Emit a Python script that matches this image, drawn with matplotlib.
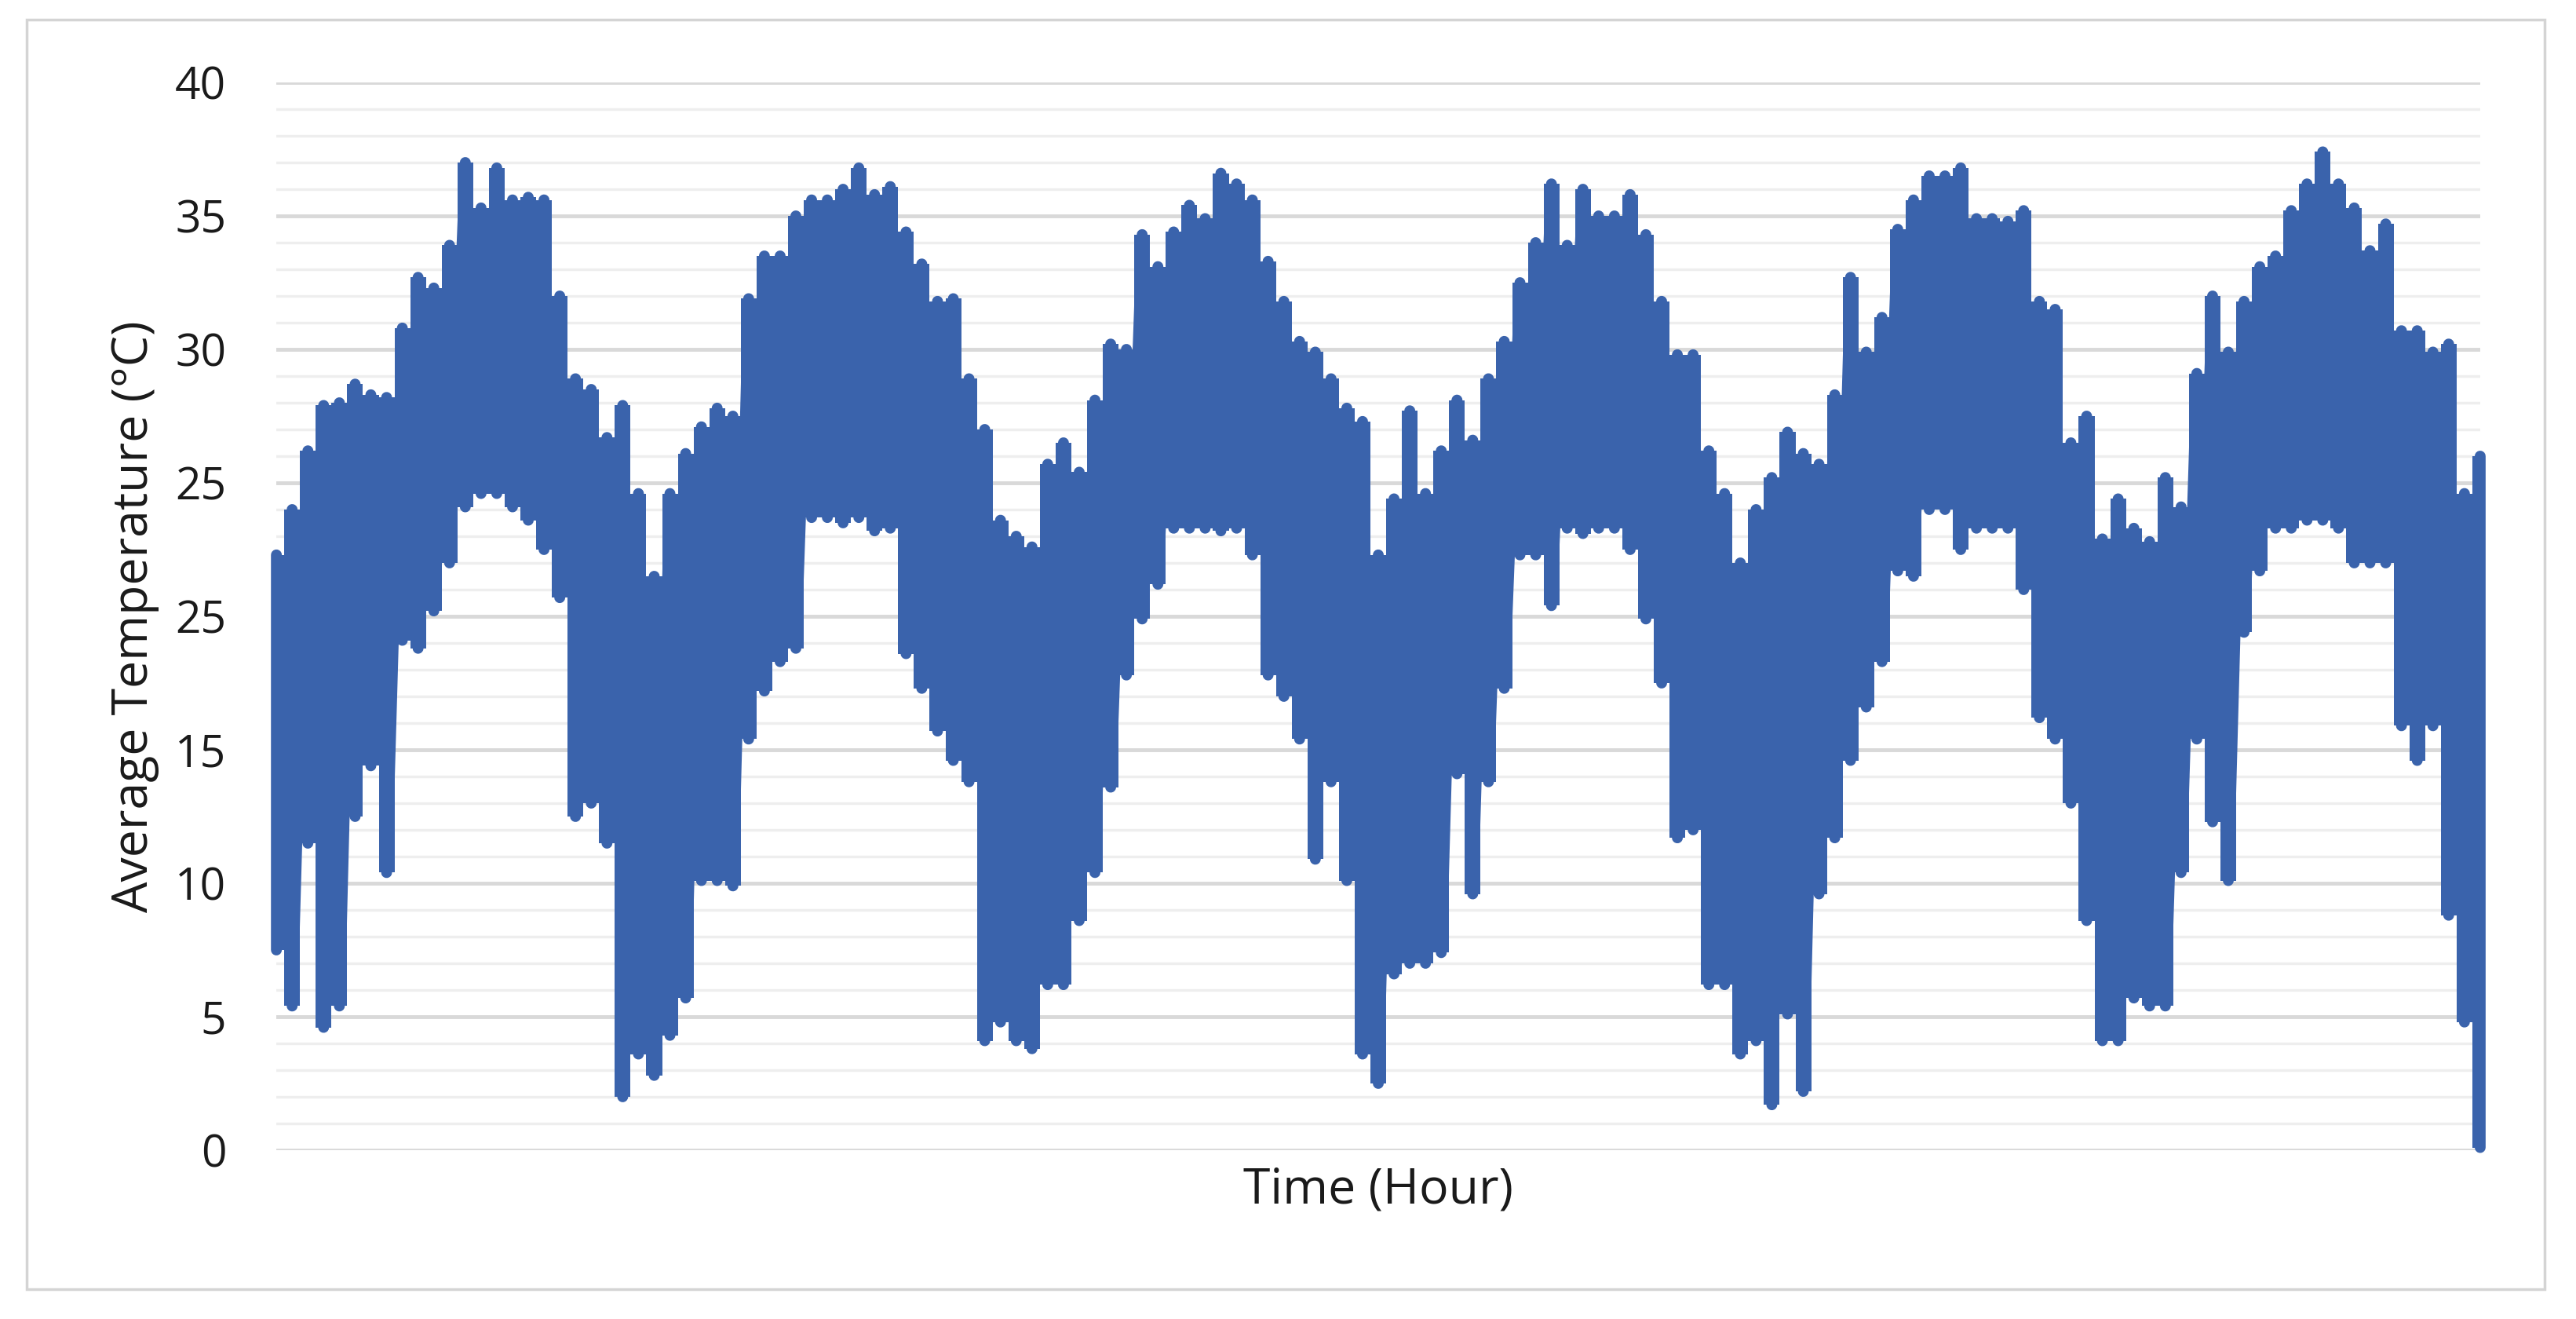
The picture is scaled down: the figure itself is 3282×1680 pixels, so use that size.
import numpy as np
import matplotlib.pyplot as plt
from matplotlib.patches import Rectangle

# Daily high / low envelope of the hourly temperature trace
# (one pair of values per step along the time axis)
upper = [22.3, 24.0, 26.2, 27.9, 28.0, 28.7, 28.3, 28.2, 30.8, 32.7, 32.3, 33.9,
         37.0, 35.3, 36.8, 35.6, 35.7, 35.6, 32.0, 28.9, 28.5, 26.7, 27.9, 24.6,
         21.5, 24.6, 26.1, 27.1, 27.8, 27.5, 31.9, 33.5, 33.5, 35.0, 35.6, 35.6,
         36.0, 36.8, 35.8, 36.1, 34.4, 33.2, 31.8, 31.9, 28.9, 27.0, 23.6,
         23.0, 22.6, 25.7, 26.5, 25.4, 28.1, 30.2, 30.0, 34.3, 33.1, 34.4, 35.4,
         34.9, 36.6, 36.2, 35.6, 33.3, 31.8, 30.3, 29.9, 28.9, 27.8, 27.3,
         22.3, 24.4, 27.7, 24.6, 26.2, 28.1, 26.6, 28.9, 30.3, 32.5, 34.0, 36.2,
         33.9, 36.0, 35.0, 35.0, 35.8, 34.3, 31.8, 29.8, 29.8, 26.2, 24.6,
         22.0, 24.0, 25.2, 26.9, 26.1, 25.7, 28.3, 32.7, 29.9, 31.2, 34.5, 35.6,
         36.5, 36.5, 36.8, 34.9, 34.9, 34.8, 35.2, 31.8, 31.5, 26.5, 27.5,
         22.9, 24.4, 23.3, 22.8, 25.2, 24.1, 29.1, 32.0, 29.9, 31.8, 33.1, 33.5,
         35.2, 36.2, 37.4, 36.2, 35.3, 33.7, 34.7, 30.7, 30.7, 29.9, 30.2, 24.6, 26.0]

lower = [7.5, 5.4, 11.5, 4.6, 5.4, 12.5, 14.4, 10.4, 19.1, 18.8, 20.2, 22.0,
         24.1, 24.6, 24.6, 24.1, 23.6, 22.5, 20.7, 12.5, 13.0, 11.5, 2.0, 3.6,
         2.8, 4.3, 5.7, 10.1, 10.1, 9.9, 15.4, 17.2, 18.3, 18.8, 23.7, 23.7,
         23.5, 23.7, 23.2, 23.3, 18.6, 17.3, 15.7, 14.6, 13.8, 4.1, 4.8,
         4.1, 3.8, 6.2, 6.2, 8.6, 10.4, 13.6, 17.8, 19.9, 21.2, 23.3, 23.3,
         23.3, 23.2, 23.3, 22.3, 17.8, 17.0, 15.4, 10.9, 13.8, 10.1, 3.6,
         2.5, 6.6, 7.0, 7.0, 7.4, 14.1, 9.6, 13.8, 17.3, 22.3, 22.3, 20.4,
         23.3, 23.1, 23.3, 23.3, 22.5, 19.9, 17.5, 11.7, 12.0, 6.2, 6.2,
         3.6, 4.1, 1.7, 5.1, 2.2, 9.6, 11.7, 14.6, 16.6, 18.3, 21.7, 21.5,
         24.0, 24.0, 22.5, 23.3, 23.3, 23.3, 21.0, 16.2, 15.4, 13.0, 8.6,
         4.1, 4.1, 5.7, 5.4, 5.4, 10.4, 15.4, 12.3, 10.1, 19.4, 21.7, 23.3,
         23.3, 23.6, 23.6, 23.3, 22.0, 22.0, 22.0, 15.9, 14.6, 15.9, 8.8, 4.8, 0.1]

ytick_values = [0, 5, 10, 15, 20, 25, 30, 35, 40]
ytick_labels = ['0', '5', '10', '15', '25', '25', '30', '35', '40']  # as printed

blue = '#3a63ac'

# zig-zag high -> low at each step, like the dense hourly line
steps = np.arange(len(upper))
x = np.repeat(steps, 2)
y = np.empty(2 * len(upper))
y[0::2] = upper
y[1::2] = lower

plt.rcParams['font.family'] = ['Open Sans', 'DejaVu Sans']

fig = plt.figure(figsize=(32.82, 16.80), dpi=100)
ax = fig.add_axes([0.1073, 0.1280, 0.8555, 0.8095])

# light frame round the whole chart
fig.patches.append(Rectangle((0.0104, 0.0226), 0.9775, 0.9625, transform=fig.transFigure,
                             fill=False, edgecolor='#d4d4d4', linewidth=2.5))

# the hourly swings are so dense that they merge into a solid band
ax.fill_between(steps, lower, upper, step='mid', color=blue, linewidth=0, zorder=3)
ax.plot(x, y, color=blue, linewidth=10, solid_capstyle='round',
        solid_joinstyle='round', clip_on=False, zorder=3)

ax.set_ylim(0, 40)
ax.set_xlim(0, len(upper) - 1)
ax.set_yticks(ytick_values)
ax.set_yticklabels(ytick_labels)
ax.set_yticks(np.arange(0, 41, 1), minor=True)
ax.set_xticks([])

ax.grid(axis='y', which='major', color='#d9d9d9', linewidth=3.5)
ax.grid(axis='y', which='minor', color='#eeeeee', linewidth=2.5)
ax.set_axisbelow(True)
ax.tick_params(axis='y', which='both', length=0, pad=46, labelsize=41, labelcolor='#1a1a1a')

for s in ax.spines.values():
    s.set_visible(False)

ax.set_ylabel('Average Temperature (°C)', fontsize=45, color='#1a1a1a')
ax.yaxis.set_label_coords(-0.053, 0.5)
ax.set_xlabel('Time (Hour)', fontsize=45, color='#1a1a1a', va='top')
ax.xaxis.set_label_coords(0.5, -0.0147)

fig.savefig('out.png', dpi=100)
